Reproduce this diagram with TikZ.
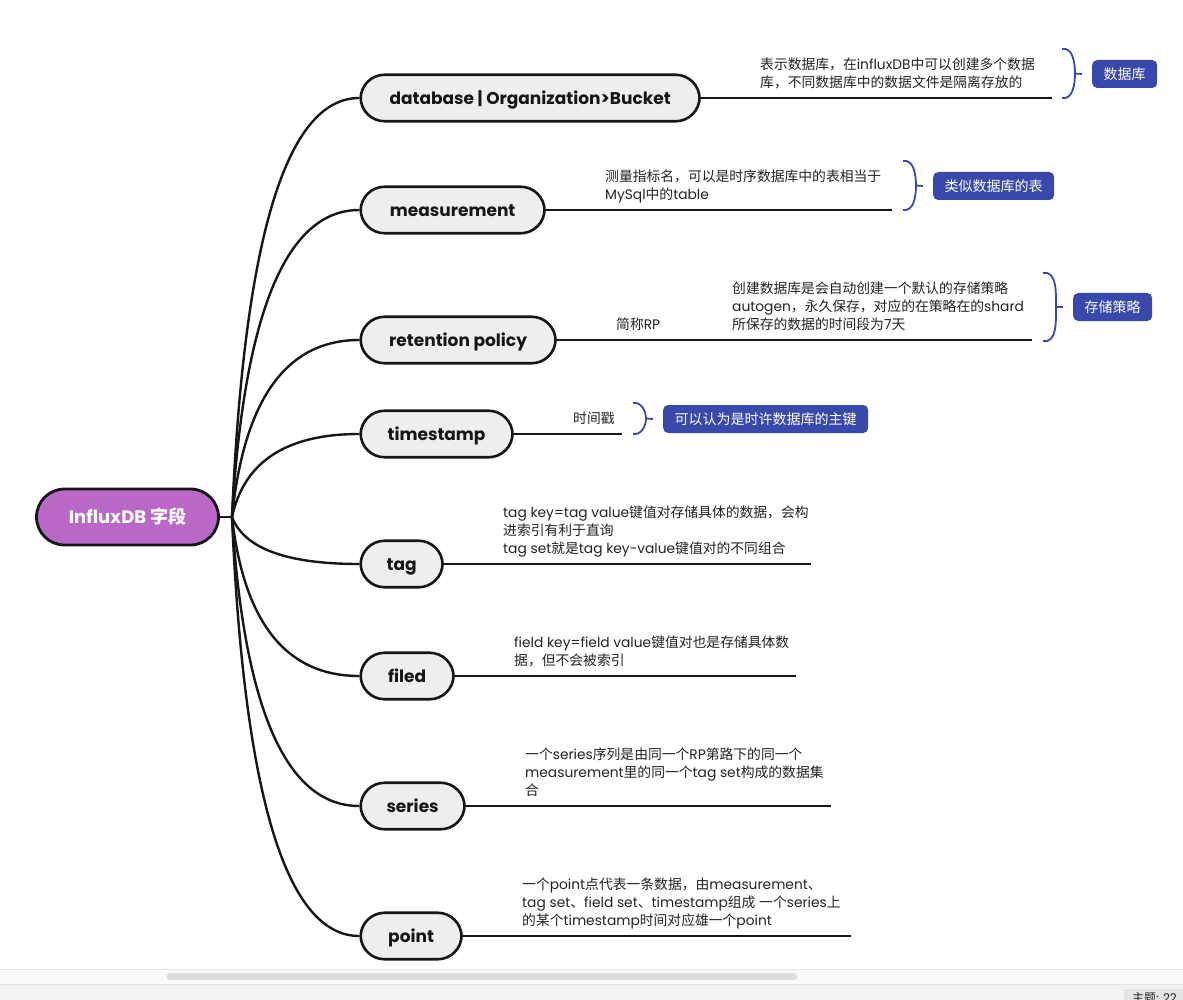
\documentclass[tikz,border=0pt]{standalone}
\usepackage{fontspec}
\setmainfont{Poppins}
\newfontfamily\zhfont{Noto Sans CJK SC}
\newcommand\zh[1]{{\zhfont #1}}
\usetikzlibrary{calc}
\definecolor{rootc}{HTML}{BA68C8}
\definecolor{topicc}{HTML}{EEEEEE}
\definecolor{bluec}{HTML}{3949AB}
\definecolor{inkc}{HTML}{161616}
\definecolor{textc}{HTML}{222222}
\definecolor{barA}{HTML}{FAFAFA}
\definecolor{barB}{HTML}{F3F3F3}
\definecolor{barline}{HTML}{E4E4E4}
\definecolor{thumbc}{HTML}{DDDDDD}
\tikzset{
  topic/.style={draw=inkc, line width=2.6pt, fill=topicc, rounded corners=24pt,
    minimum height=46.5pt, inner sep=0pt, anchor=west, text=inkc,
    text height=13pt, text depth=0pt,
    font=\fontsize{17}{20}\selectfont\bfseries},
  rootnode/.style={draw=inkc, line width=2.8pt, fill=rootc, rounded corners=28pt,
    minimum height=56pt, minimum width=182pt, inner sep=0pt, text=white,
    text height=13.5pt, text depth=0pt,
    font=\fontsize{18}{21}\selectfont\bfseries},
  branch/.style={draw=inkc, line width=2.4pt},
  leaf/.style={draw=inkc, line width=2pt},
  anno/.style={font=\fontsize{13.8}{18}\selectfont, align=left, inner sep=0pt,
    anchor=south west, text=textc},
  tagbox/.style={fill=bluec, text=white, rounded corners=5pt, minimum height=28pt,
    inner xsep=11.5pt, inner ysep=0pt, anchor=west, font=\fontsize{14}{17}\selectfont\zhfont},
  bracec/.style={draw=bluec, line width=1.8pt},
}
\begin{document}
\begin{tikzpicture}[x=1pt,y=-1pt]
\useasboundingbox (0,0) rectangle (1183,1000);
\clip (0,0) rectangle (1183,1000);
% window chrome at bottom
\fill[barA] (0,969) rectangle (1183,984);
\fill[barB] (0,984) rectangle (1183,1000);
\draw[barline, line width=1pt] (0,969) -- (1183,969);
\draw[barline, line width=1pt] (0,984) -- (1183,984);
\fill[thumbc, rounded corners=3pt] (167,973) rectangle (797,980);
\fill[barline] (1124,989) rectangle (1183,1000);
\node[anchor=north west, inner sep=0pt, font=\fontsize{12}{14}\selectfont, text=textc] (status) at (1132,992) {\zh{主题}: 22};

% root and topics
\node[rootnode] (root) at (127.5,517) {Influx\kern0.5pt DB \zh{字段}};
\coordinate (hub) at (232,517);
\node[topic, minimum width=339pt] (db)   at (359.3,98)  {database | Organization>Bucket};
\node[topic, minimum width=184pt] (meas) at (359.3,210) {measurement};
\node[topic, minimum width=195pt] (rp)   at (359.3,340) {retention policy};
\node[topic, minimum width=152pt] (ts)   at (359.3,434) {timestamp};
\node[topic, minimum width=82pt]  (tag)  at (359.3,564) {tag};
\node[topic, minimum width=93pt]  (fld)  at (359.3,676) {filed};
\node[topic, minimum width=104pt] (ser)  at (359.3,806) {series};
\node[topic, minimum width=101pt] (pt)   at (359.3,936) {point};

\draw[branch] (root.east) -- (hub);
\foreach \nd in {db,meas,rp,ts,tag,fld,ser,pt}{
  \draw[branch] let \p1=(hub), \p2=(\nd.west) in
    (\p1) .. controls ($(\p1)!0.667!(\x1+18pt,\y2)$) and ($(\p2)!0.667!(\x1+18pt,\y2)$) .. (\p2);
}

% leaf lines
\coordinate (dbend)   at (1052,98);
\coordinate (measend) at (892,210);
\coordinate (rpend)   at (1032,340);
\coordinate (tsend)   at (622,434);
\coordinate (tagend)  at (811,564);
\coordinate (fldend)  at (796,676);
\coordinate (serend)  at (831,806);
\coordinate (ptend)   at (851,936);
\draw[leaf] (db.east) -- (dbend);
\draw[leaf] (meas.east) -- (measend);
\draw[leaf] (rp.east) -- (rpend);
\draw[leaf] (ts.east) -- (tsend);
\draw[leaf] (tag.east) -- (tagend);
\draw[leaf] (fld.east) -- (fldend);
\draw[leaf] (ser.east) -- (serend);
\draw[leaf] (pt.east) -- (ptend);

% annotations
\node[anno] (dbtxt) at (760,93) {\zh{表示数据库，在}influxDB\zh{中可以创建多个数据}\\\zh{库，不同数据库中的数据文件是隔离存放的}\strut};
\node[anno] (meastxt) at (605,205) {\zh{测量指标名，可以是时序数据库中的表相当于}\\MySql\zh{中的}table\strut};
\node[anno] (rplbl) at (616,335) {\zh{简称}RP\strut};
\node[anno] (rptxt) at (732,335) {\zh{创建数据库是会自动创建一个默认的存储策略}\\autogen\zh{，永久保存，对应的在策略在的}shard\\\zh{所保存的数据的时间段为}7\zh{天}\strut};
\node[anno] (tstxt) at (573,429) {\zh{时间戳}\strut};
\node[anno] (tagtxt) at (503,559) {tag key=tag value\zh{键值对存储具体的数据，会构}\\\zh{进索引有利于直询}\\tag set\zh{就是}tag key-value\zh{键值对的不同组合}\strut};
\node[anno] (fldtxt) at (514,671) {field key=field value\zh{键值对也是存储具体数}\\\zh{据，但不会被索引}\strut};
\node[anno] (sertxt) at (525,801) {\zh{一个}series\zh{序列是由同一个}RP\zh{第路下的同一个}\\measurement\zh{里的同一个}tag set\zh{构成的数据集}\\\zh{合}\strut};
\node[anno] (pttxt) at (522,931) {\zh{一个}point\zh{点代表一条数据，由}measurement\zh{、}\\tag set\zh{、}field set\zh{、}timestamp\zh{组成} \zh{一个}series\zh{上}\\\zh{的某个}timestamp\zh{时间对应雄一个}point\strut};

% summary boxes
\node[tagbox] (dbbox)   at (1092,74)  {数据库};
\node[tagbox] (measbox) at (933,186)  {类似数据库的表};
\node[tagbox] (rpbox)   at (1073,307) {存储策略};
\node[tagbox] (tsbox)   at (663,419)  {可以认为是时许数据库的主键};

% braces
\coordinate (dbbr) at (1075,73.5);
\draw[bracec] (1062,49) to[out=10,in=90] (dbbr) to[out=-90,in=-10] (1062,98);
\draw[bracec] (dbbr) -- ($(dbbox.west)+(-10,0)$);
\coordinate (measbr) at (916,185.5);
\draw[bracec] (903,161) to[out=10,in=90] (measbr) to[out=-90,in=-10] (903,210);
\draw[bracec] (measbr) -- ($(measbox.west)+(-10,0)$);
\coordinate (rpbr) at (1056,307);
\draw[bracec] (1043,273) to[out=10,in=90] (rpbr) to[out=-90,in=-10] (1043,341);
\draw[bracec] (rpbr) -- ($(rpbox.west)+(-10,0)$);
\coordinate (tsbr) at (646,418.5);
\draw[bracec] (633,403) to[out=10,in=90] (tsbr) to[out=-90,in=-10] (633,434);
\draw[bracec] (tsbr) -- ($(tsbox.west)+(-10,0)$);
\end{tikzpicture}
\end{document}
